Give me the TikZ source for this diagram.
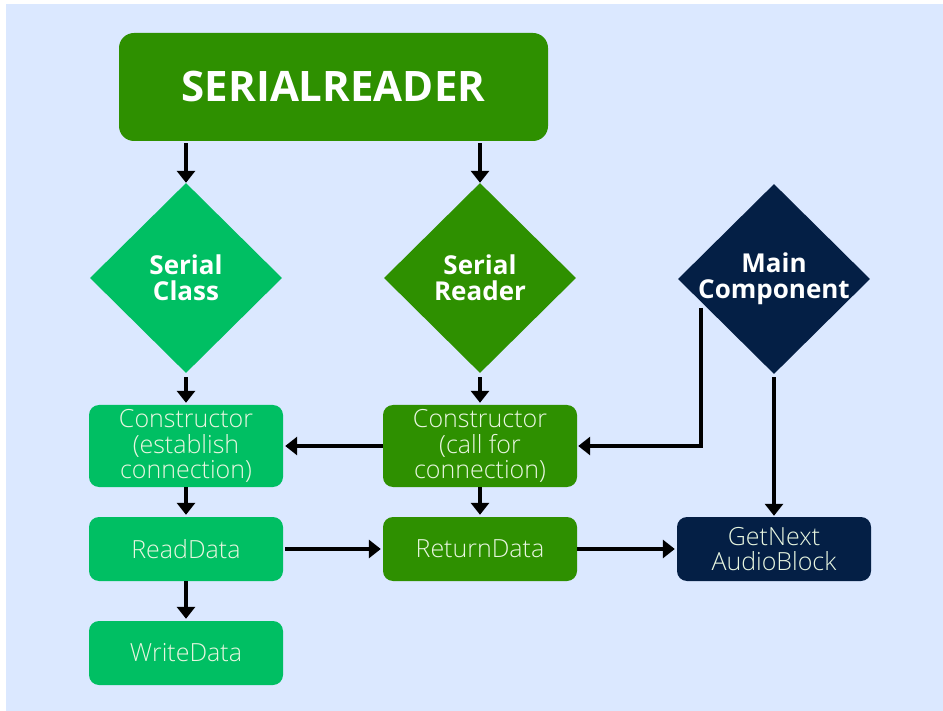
\documentclass[tikz,border=0pt]{standalone}
\usepackage{fontspec}
\setmainfont{Open Sans}
\newfontfamily\lightfont{Open Sans Light}
\usetikzlibrary{shapes.geometric,arrows.meta}

\definecolor{bgblue}{HTML}{DBE8FF}
\definecolor{darkgreen}{HTML}{2E9000}
\definecolor{lightgreen}{HTML}{00BF63}
\definecolor{navy}{HTML}{041F45}
\definecolor{paletext}{HTML}{E8F6E0}

\begin{document}
\begin{tikzpicture}[x=1pt, y=-1pt,
    every node/.style = {align=center, inner sep=0pt},
    titlebox/.style = {rectangle, rounded corners=15pt, fill=darkgreen,
      minimum width=429pt, minimum height=108pt, text=white,
      font=\fontsize{42}{48}\selectfont\bfseries},
    diam/.style = {diamond, aspect=1, inner sep=-8pt, minimum width=192pt,
      minimum height=190pt, text=white,
      font=\fontsize{26}{26}\selectfont\bfseries},
    stepbox/.style = {rectangle, rounded corners=10pt, minimum width=194pt,
      minimum height=64pt, text=paletext,
      font=\lightfont\fontsize{25}{25.5}\selectfont},
    arr/.style = {line width=4pt, -{Triangle[width=18pt,length=12pt]}}]
  \useasboundingbox (0,0) rectangle (943,711);
  \fill[bgblue] (6,4) rectangle (943,711);

  \node[titlebox] (title) at (333.5,87) {SERIALREADER};

  \node[diam, fill=lightgreen] (sclass) at (186,278) {Serial\\Class};
  \node[diam, fill=darkgreen] (sreader) at (480,278) {Serial\\Reader};
  \node[diam, fill=navy] (main) at (774,279) {Main\\Component};

  \node[stepbox, fill=lightgreen, minimum height=82pt] (cons1) at (186,446)
    {Constructor\\(establish\\connection)};
  \node[stepbox, fill=darkgreen, minimum height=82pt] (cons2) at (480,446)
    {Constructor\\(call for\\connection)};
  \node[stepbox, fill=lightgreen] (read) at (186,549) {ReadData};
  \node[stepbox, fill=darkgreen] (ret) at (480,549) {ReturnData};
  \node[stepbox, fill=navy] (next) at (774,549) {GetNext\\AudioBlock};
  \node[stepbox, fill=lightgreen] (write) at (186,653) {WriteData};

  % connectors
  \draw[arr, shorten <=2pt] (title.south -| sclass) -- (sclass.north);
  \draw[arr, shorten <=2pt] (title.south -| sreader) -- (sreader.north);
  \draw[arr, shorten <=4pt, shorten >=2pt] (sclass.south) -- (cons1.north);
  \draw[arr, shorten <=4pt, shorten >=2pt] (sreader.south) -- (cons2.north);
  \draw[arr, shorten >=2pt] (cons2.west) -- (cons1.east);
  \draw[arr, shorten >=1pt] ([xshift=23pt,yshift=-29pt]main.west) |- (cons2.east);
  \draw[arr, shorten <=3pt, shorten >=1pt] (main.south) -- (next.north);
  \draw[arr, shorten >=2pt] (cons1.south) -- (read.north);
  \draw[arr, shorten >=2pt] (cons2.south) -- (ret.north);
  \draw[arr, shorten >=2pt] (read.south) -- (write.north);
  \draw[arr, shorten <=2pt, shorten >=2pt] (read.east) -- (ret.west);
  \draw[arr, shorten >=2pt] (ret.east) -- (next.west);
\end{tikzpicture}
\end{document}
